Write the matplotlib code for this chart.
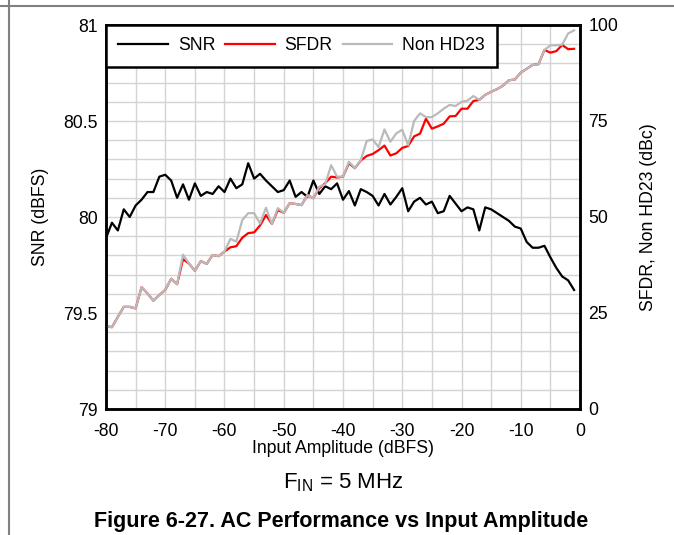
import numpy as np
import matplotlib
matplotlib.use("Agg")
import matplotlib.pyplot as plt
from matplotlib.lines import Line2D

plt.rcParams['font.family'] = 'Liberation Sans'
plt.rcParams['mathtext.fontset'] = 'custom'
plt.rcParams['mathtext.rm'] = 'Liberation Sans'

# input amplitude in dBFS, 1 dB steps
amp = list(range(-80, 0))

# SNR (dBFS), left axis
snr = [79.89, 79.97, 79.93, 80.04, 80.00, 80.06, 80.09, 80.13, 80.13, 80.21,
       80.22, 80.19, 80.10, 80.17, 80.09, 80.175, 80.11, 80.13, 80.12, 80.16,
       80.13, 80.20, 80.15, 80.17, 80.28, 80.20, 80.225, 80.19, 80.16, 80.13,
       80.14, 80.19, 80.105, 80.13, 80.105, 80.19, 80.12, 80.16, 80.145, 80.175,
       80.09, 80.135, 80.06, 80.145, 80.13, 80.11, 80.06, 80.12, 80.065, 80.105,
       80.15, 80.03, 80.08, 80.10, 80.065, 80.08, 80.02, 80.03, 80.11, 80.07,
       80.03, 80.05, 80.04, 79.93, 80.05, 80.04, 80.02, 80.00, 79.98, 79.95,
       79.94, 79.87, 79.84, 79.84, 79.85, 79.79, 79.735, 79.69, 79.67, 79.62]

# SFDR (dBc), right axis
sfdr = [21.6, 21.3, 24.0, 26.6, 26.6, 26.2, 31.7, 30.1, 28.2, 29.7,
        31.0, 33.9, 32.5, 39.0, 37.9, 36.0, 38.5, 37.8, 40.1, 39.8,
        41.0, 42.1, 42.4, 44.6, 45.8, 46.0, 47.8, 50.5, 48.2, 51.8,
        51.1, 53.6, 53.4, 53.1, 55.7, 54.9, 57.5, 58.8, 60.5, 60.3,
        60.5, 64.0, 62.7, 64.7, 65.9, 66.4, 67.4, 68.6, 66.0, 66.6,
        68.0, 68.5, 71.0, 71.7, 75.6, 73.0, 73.6, 74.3, 76.2, 76.3,
        78.2, 78.2, 80.2, 80.5, 81.8, 82.6, 83.3, 84.2, 85.6, 85.8,
        87.6, 88.6, 89.6, 89.8, 93.5, 92.8, 93.2, 94.8, 93.7, 93.8]

# Non HD23 (dBc), right axis
nonhd23 = [21.6, 21.3, 24.0, 26.6, 26.6, 26.2, 31.7, 30.1, 28.2, 29.7,
           31.0, 33.9, 32.5, 40.2, 37.9, 36.0, 38.5, 37.8, 40.1, 39.8,
           41.0, 44.3, 43.6, 49.2, 51.0, 51.0, 48.3, 52.4, 48.2, 52.3,
           51.1, 53.6, 53.4, 53.1, 55.7, 54.9, 57.9, 58.5, 63.5, 60.5,
           60.5, 64.4, 62.7, 64.8, 69.8, 70.2, 68.2, 72.8, 69.6, 71.8,
           72.7, 68.7, 75.0, 77.0, 76.0, 76.0, 77.0, 78.2, 79.2, 78.9,
           80.0, 80.3, 81.5, 80.5, 81.8, 82.6, 83.3, 84.2, 85.6, 85.8,
           87.6, 88.6, 89.6, 89.8, 93.5, 94.7, 94.7, 94.9, 97.8, 98.6]

x_ticks = [-80, -70, -60, -50, -40, -30, -20, -10, 0]
snr_ticks = [79, 79.5, 80, 80.5, 81]
dbc_ticks = [0, 25, 50, 75, 100]

fs = 12.7  # base font size

fig = plt.figure(figsize=(6.74, 5.35), dpi=100)
ax = fig.add_axes([106/674, 1-409/535, 474/674, 384/535])
ax2 = ax.twinx()

l1, = ax.plot(amp, snr, color='black', lw=1.6)
l2, = ax2.plot(amp, sfdr, color='#ff0000', lw=1.6)
l3, = ax2.plot(amp, nonhd23, color='#bababa', lw=1.6)

ax.set_xlim(-80, 0)
ax.set_ylim(79, 81)
ax2.set_ylim(0, 100)
ax.set_xticks(x_ticks)
ax.set_xticklabels([str(t) for t in x_ticks])
ax.set_yticks(snr_ticks)
ax.set_yticklabels(['79', '79.5', '80', '80.5', '81'])
ax2.set_yticks(dbc_ticks)
ax.set_xticks(np.arange(-80, 1, 5), minor=True)
ax.set_yticks(np.arange(79, 81.01, 0.1), minor=True)
ax.grid(True, which='both', color='#d4d4d4', lw=1.0)
ax.set_axisbelow(True)

for a in (ax, ax2):
	a.tick_params(which='both', length=0, labelsize=fs, pad=6)
	for s in a.spines.values():
		s.set_linewidth(1.8)
		s.set_color('black')
ax.tick_params(axis='x', pad=10)

ax.set_xlabel('Input Amplitude (dBFS)', fontsize=fs, labelpad=0)
ax.set_ylabel('SNR (dBFS)', fontsize=fs, labelpad=10)
ax2.set_ylabel('SFDR, Non HD23 (dBc)', fontsize=fs, labelpad=16)

leg = ax2.legend([l1, l2, l3], ['SNR', 'SFDR', 'Non HD23'], ncol=3,
                 loc='upper left', bbox_to_anchor=(0, 1), borderaxespad=0,
                 fontsize=fs, handlelength=2.8, handletextpad=0.57,
                 columnspacing=0.57, borderpad=0.7, fancybox=False, framealpha=1)
leg.get_frame().set_edgecolor('black')
leg.get_frame().set_linewidth(1.8)

fig.text(343/674, 1-483/535, r'F$_{\mathrm{IN}}$ = 5 MHz', fontsize=16,
         ha='center', va='center')
fig.text(341/674, 1-521/535, 'Figure 6-27. AC Performance vs Input Amplitude',
         fontsize=15.5, fontweight='bold', ha='center', va='center')

# page border lines
fig.add_artist(Line2D([0, 1], [1-6/535, 1-6/535], color='#808080', lw=1.5))
fig.add_artist(Line2D([9/674, 9/674], [0, 1], color='#808080', lw=1.5))

fig.savefig('out.png', dpi=100)
